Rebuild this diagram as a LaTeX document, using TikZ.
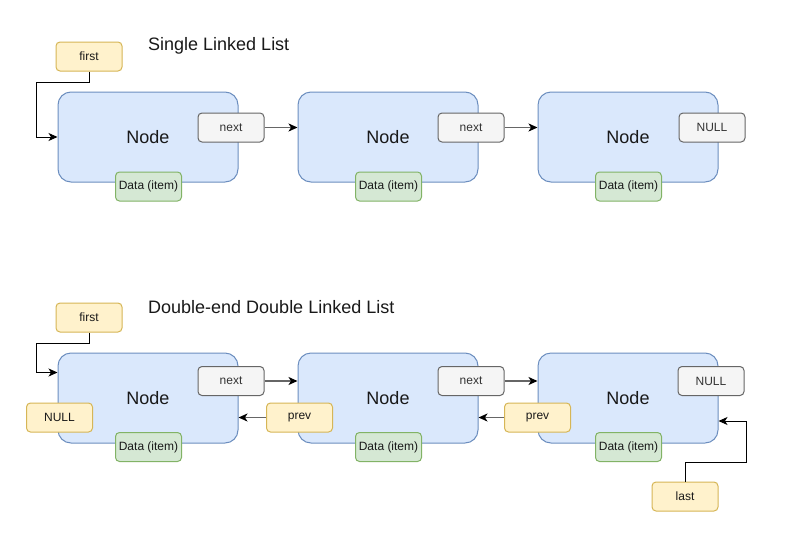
\documentclass[tikz,border=0pt]{standalone}
\usepackage{fontspec}
\setmainfont{Liberation Sans}
\usetikzlibrary{arrows.meta,calc}
\definecolor{nodeF}{HTML}{DAE8FC}
\definecolor{nodeS}{HTML}{6C8EBF}
\definecolor{yF}{HTML}{FFF2CC}
\definecolor{yS}{HTML}{D6B656}
\definecolor{gF}{HTML}{D5E8D4}
\definecolor{gS}{HTML}{82B366}
\definecolor{grF}{HTML}{F5F5F5}
\definecolor{grS}{HTML}{666666}
\definecolor{grT}{HTML}{333333}
\tikzset{
  nodebox/.style={draw=nodeS, fill=nodeF, line width=1pt, rounded corners=13pt,
    minimum width=180pt, minimum height=90pt, inner sep=0pt,
    font=\fontsize{18}{21}\selectfont, text=black!90},
  smallbox/.style={line width=1pt, rounded corners=4pt, minimum width=66pt,
    minimum height=29pt, inner sep=0pt, font=\fontsize{12}{14}\selectfont},
  ylwbox/.style={smallbox, draw=yS, fill=yF, text=black!90},
  grnbox/.style={smallbox, draw=gS, fill=gF, text=black!90},
  grybox/.style={smallbox, draw=grS, fill=grF, text=grT},
  title/.style={anchor=west, inner sep=0pt, font=\fontsize{18}{21}\selectfont, text=black!90},
  conn/.style={draw=black, line width=1pt, -{Stealth[length=9pt,width=8pt,inset=2.5pt]}},
  gconn/.style={draw=black!60, line width=1.4pt, -{Stealth[length=9pt,width=8pt,inset=2.5pt,black]}}
}
\begin{document}
\begin{tikzpicture}[x=1pt,y=-1pt]
\useasboundingbox[fill=white] (0,0) rectangle (789,541);
% ---- Single linked list ----
\node[title] (t1) at (148,46) {Single Linked List};
\node[nodebox] (a1) at (148,137) {Node};
\node[nodebox] (a2) at (388,137) {Node};
\node[nodebox] (a3) at (628,137) {Node};
\node[ylwbox] (af) at (89,56.5) {first};
\node[grybox] (anx1) at (231,127.5) {next};
\node[grybox] (anx2) at (471,127.5) {next};
\node[grybox] (anull) at (712,127.5) {NULL};
\node[grnbox] (ad1) at (148.5,186.5) {Data (item)};
\node[grnbox] (ad2) at (388.5,186.5) {Data (item)};
\node[grnbox] (ad3) at (628.5,186.5) {Data (item)};
\coordinate (ab) at (36,82);
\draw[conn] (af.south) |- (ab) |- (a1.west);
\draw[gconn] (anx1.east) -- (a2.west |- anx1.east);
\draw[gconn] (anx2.east) -- (a3.west |- anx2.east);
% ---- Double-end double linked list ----
\node[title] (t2) at (148,307) {Double-end Double Linked List};
\node[nodebox] (b1) at (148,398) {Node};
\node[nodebox] (b2) at (388,398) {Node};
\node[nodebox] (b3) at (628,398) {Node};
\node[ylwbox] (bf) at (89,317.5) {first};
\node[grybox] (bnx1) at (231,381) {next};
\node[grybox] (bnx2) at (471,381) {next};
\node[grybox] (bnull) at (711,381) {NULL};
\node[ylwbox] (bnl) at (59.5,417.5) {NULL};
\node[ylwbox] (bpv1) at (299.5,417.5) {prev};
\node[ylwbox] (bpv2) at (537.5,417.5) {prev};
\node[grnbox] (bd1) at (148.5,447) {Data (item)};
\node[grnbox] (bd2) at (388.5,447) {Data (item)};
\node[grnbox] (bd3) at (628.5,447) {Data (item)};
\node[ylwbox] (bl) at (685,496.5) {last};
\coordinate (bb1) at (36,343);
\draw[conn] (bf.south) |- (bb1) |- ($(b1.north west)+(0,20)$);
\draw[gconn] (bnx1.east) -- (b2.west |- bnx1.east);
\draw[gconn] (bnx2.east) -- (b3.west |- bnx2.east);
\draw[gconn] (bpv1.west) -- (b1.east |- bpv1.west);
\draw[gconn] (bpv2.west) -- (b2.east |- bpv2.west);
\coordinate (bb2) at (746,462);
\draw[conn] (bl.north) |- (bb2) |- ($(b3.east)+(0,23)$);
\end{tikzpicture}
\end{document}
